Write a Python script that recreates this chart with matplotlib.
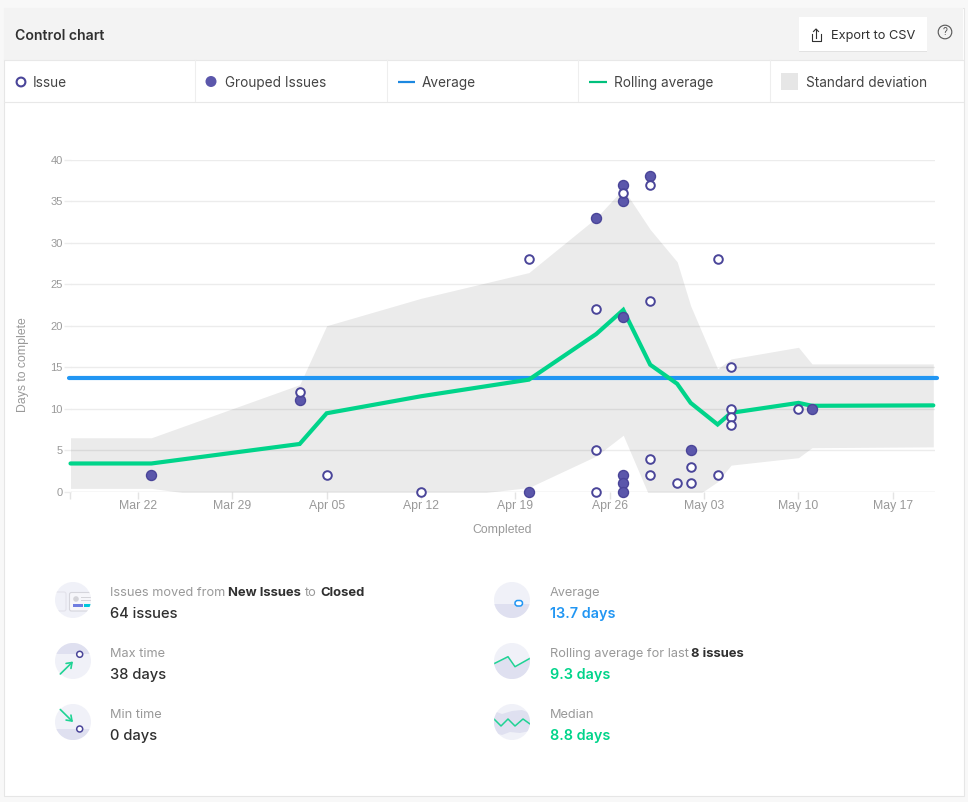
#!/usr/bin/env python3
import pandas as pd
import matplotlib
matplotlib.use("Agg")
import matplotlib.pyplot as plt
from matplotlib.patches import Rectangle, Circle, FancyBboxPatch, Polygon

# chart data
issue_dates = ["04-03", "04-05", "04-12", "04-20", "04-25", "04-25", "04-25", "04-27", "04-29", "04-29",
               "04-29", "04-29", "05-01", "05-02", "05-02", "05-04", "05-04", "05-05", "05-05", "05-05",
               "05-05", "05-10"]
issue_days = [12, 2, 0, 28, 22, 5, 0, 36, 37, 23, 4, 2, 1, 3, 1, 28, 2, 15, 10, 9, 8, 10]

group_dates = ["03-23", "04-03", "04-20", "04-25", "04-27", "04-27", "04-27", "04-27", "04-27", "04-27",
               "04-29", "05-02", "05-11"]
group_days = [2, 11, 0, 33, 37, 35, 21, 2, 1, 0, 38, 5, 10]

roll_dates = ["03-17", "03-23", "04-03", "04-05", "04-12", "04-20", "04-25", "04-27", "04-29", "05-01",
              "05-02", "05-04", "05-05", "05-10", "05-11", "05-20"]
roll_avg = [3.4, 3.4, 5.75, 9.45, 11.5, 13.5, 19.0, 21.9, 15.3, 13.0, 10.7, 8.1, 9.5, 10.7, 10.35, 10.4]
std_upper = [6.5, 6.5, 12.9, 20.0, 23.3, 26.4, 33.0, 36.5, 31.6, 27.7, 22.4, 14.8, 16.0, 17.4, 15.4, 15.4]
std_lower = [0.4, 0.4, -2.0, -1.5, -1.0, 0.5, 4.3, 6.8, -0.8, -1.8, -1.0, 1.2, 3.2, 4.1, 5.3, 5.4]

average = 13.7

tick_dates = ["03-17", "03-22", "03-29", "04-05", "04-12", "04-19", "04-26", "05-03", "05-10", "05-17"]
tick_labels = ["", "Mar 22", "Mar 29", "Apr 05", "Apr 12", "Apr 19", "Apr 26", "May 03", "May 10", "May 17"]
y_ticks = [0, 5, 10, 15, 20, 25, 30, 35, 40]

legend_names = ["Issue", "Grouped Issues", "Average", "Rolling average", "Standard deviation"]


def to_dates(md):
    return pd.to_datetime(["2020-" + d for d in md])


W, H = 968, 802
PURPLE = "#4a4599"
PURPLE_FILL = "#5b57ab"
BLUE = "#2196f3"
GREEN = "#00d48a"
GREY = "#999999"
DARK = "#303030"
ICON_BG = "#f0f1f8"
ICON_BAND = "#dfe0f0"

plt.rcParams["font.family"] = ["Inter", "DejaVu Sans"]
fig = plt.figure(figsize=(W / 100, H / 100), dpi=100, facecolor="#f8f8f8")

# page layer works in pixels
bg = fig.add_axes([0, 0, 1, 1], zorder=0)
bg.set_xlim(0, W)
bg.set_ylim(H, 0)
bg.axis("off")

bg.add_patch(Rectangle((3.5, 7.5), 960, 788, fc="white", ec="#e6e6e6", lw=0.8))
bg.add_patch(Rectangle((4, 8), 959, 51.5, fc="#f3f3f3", ec="none"))
bg.plot([4, 963], [59.5, 59.5], color="#e8e8e8", lw=0.8)
bg.plot([4, 963], [101.5, 101.5], color="#e8e8e8", lw=0.8)
for x in [194.5, 386.5, 577.5, 769.5]:
    bg.plot([x, x], [60, 101], color="#eeeeee", lw=0.8)

bg.text(15, 36, "Control chart", fontsize=10.1, color=DARK, fontweight="semibold", va="center")

# export button
bg.add_patch(Rectangle((799, 18), 128, 34, fc="#e2e2e2", ec="none"))
bg.add_patch(Rectangle((799, 17), 128, 34, fc="white", ec="none"))
bg.text(831, 36, "Export to CSV", fontsize=9.2, color=DARK, va="center")
bg.plot([811.5, 811.5, 820.5, 820.5], [34, 40.5, 40.5, 34], color=DARK, lw=0.8)
bg.plot([816, 816], [38, 29], color=DARK, lw=0.8)
bg.plot([813.5, 816, 818.5], [31.5, 29, 31.5], color=DARK, lw=0.8)
bg.add_patch(Circle((945, 32), 6.8, fc="none", ec="#555555", lw=0.8))
bg.text(945, 32.2, "?", fontsize=7, color="#555555", ha="center", va="center")

# legend row
bg.add_patch(Circle((21, 82), 4.4, fc="white", ec=PURPLE, lw=1.5))
bg.text(33, 83, legend_names[0], fontsize=9.8, color="#444444", va="center")
bg.add_patch(Circle((211, 81.5), 5.5, fc=PURPLE_FILL, ec="none"))
bg.text(225, 83, legend_names[1], fontsize=9.8, color="#444444", va="center")
bg.plot([398, 415], [82, 82], color="#1c88e0", lw=1.6, solid_capstyle="butt")
bg.text(422, 83, legend_names[2], fontsize=9.8, color="#444444", va="center")
bg.plot([589, 607], [82, 82], color="#00c07c", lw=1.6, solid_capstyle="butt")
bg.text(614, 83, legend_names[3], fontsize=9.8, color="#444444", va="center")
bg.add_patch(Rectangle((781, 73), 17, 17, fc="#e6e6e6", ec="none"))
bg.text(806, 83, legend_names[4], fontsize=9.8, color="#444444", va="center")


def icon(cx, cy):
    c = Circle((cx, cy), 18, fc=ICON_BG, ec="none")
    bg.add_patch(c)
    return c


def clipped(artist, clip):
    artist.set_clip_path(clip)
    return artist


# stats, left column
c = icon(73, 600)
bg.add_patch(clipped(FancyBboxPatch((52, 592), 14, 19, boxstyle="round,pad=0,rounding_size=2", fc="none", ec="#e2e2ea", lw=0.8), c))
bg.add_patch(clipped(FancyBboxPatch((69.5, 592.5), 30, 18.5, boxstyle="round,pad=0,rounding_size=2", fc="#f6f6fa", ec="#d5d5dc", lw=0.8), c))
bg.add_patch(Circle((76, 599), 2.8, fc="#d3d3d8", ec="none"))
clipped(bg.plot([81, 92], [597, 597], color="#d3d3d8", lw=0.7)[0], c)
clipped(bg.plot([81, 92], [600, 600], color="#d3d3d8", lw=0.7)[0], c)
bg.add_patch(clipped(Rectangle((73, 604), 10, 3, fc="#6f7de0", ec="none"), c))
bg.add_patch(clipped(Rectangle((84, 604), 7, 3, fc="#00c8dc", ec="none"), c))

c = icon(73, 661)
bg.add_patch(clipped(Rectangle((50, 640), 46, 14, fc=ICON_BAND, ec="none"), c))
bg.add_patch(Circle((79.7, 654.3), 3, fc="white", ec=PURPLE, lw=1.1))
bg.annotate("", xy=(73, 661.5), xytext=(60.3, 674),
            arrowprops=dict(arrowstyle="->,head_length=0.35,head_width=0.25", color="#1fd394", lw=1.2, shrinkA=0, shrinkB=0))

c = icon(73, 722)
bg.add_patch(clipped(Rectangle((50, 729), 46, 14, fc=ICON_BAND, ec="none"), c))
bg.add_patch(Circle((79.7, 729), 3, fc="white", ec=PURPLE, lw=1.1))
bg.annotate("", xy=(73, 722), xytext=(60.3, 709.5),
            arrowprops=dict(arrowstyle="->,head_length=0.35,head_width=0.25", color="#1fd394", lw=1.2, shrinkA=0, shrinkB=0))

# stats, right column
c = icon(512, 600)
bg.add_patch(clipped(Rectangle((490, 603.5), 46, 18, fc=ICON_BAND, ec="none"), c))
bg.add_patch(FancyBboxPatch((515, 600.5), 7.5, 5.5, boxstyle="round,pad=0,rounding_size=2.7", fc="white", ec=BLUE, lw=1.1))

c = icon(512, 661)
bg.add_patch(clipped(Polygon([(494, 663.7), (508, 656.7), (515, 666.7), (530, 658.3), (530, 680), (494, 680)],
                             fc=ICON_BAND, ec="none"), c))
clipped(bg.plot([494, 508, 515, 530], [663.7, 656.7, 666.7, 658.3], color="#1fd394", lw=1.1)[0], c)

c = icon(512, 722)
bg.add_patch(clipped(Polygon([(494, 711), (502, 714), (512, 711), (522, 710), (530, 713), (530, 731), (520, 733),
                              (510, 732), (502, 735), (494, 733)], fc=ICON_BAND, ec="none"), c))
clipped(bg.plot([494, 501, 508, 515, 523, 530], [719, 726, 719, 726, 719, 724], color="#1fd394", lw=1.1)[0], c)

LABEL = 9.2
VALUE = 10.6
bg.text(110.5, 592.8, "Issues moved from", fontsize=LABEL, color=GREY, va="center")
bg.text(228.5, 592.8, "New Issues", fontsize=9.35, color=DARK, fontweight="bold", va="center")
bg.text(305, 592.8, "to", fontsize=LABEL, color=GREY, va="center")
bg.text(320, 592.8, "Closed", fontsize=9.35, color=DARK, fontweight="bold", va="center")
bg.text(110.5, 614, "64 issues", fontsize=VALUE, color=DARK, fontweight="medium", va="center")
bg.text(110.5, 653.8, "Max time", fontsize=LABEL, color=GREY, va="center")
bg.text(110.5, 675, "38 days", fontsize=VALUE, color=DARK, fontweight="medium", va="center")
bg.text(110.5, 714.8, "Min time", fontsize=LABEL, color=GREY, va="center")
bg.text(110.5, 736, "0 days", fontsize=VALUE, color=DARK, fontweight="medium", va="center")

bg.text(549.5, 592.8, "Average", fontsize=LABEL, color=GREY, va="center")
bg.text(549.5, 614, "13.7 days", fontsize=10.4, color=BLUE, fontweight="semibold", va="center")
bg.text(549.5, 653.8, "Rolling average for last", fontsize=LABEL, color=GREY, va="center")
bg.text(691, 653.8, "8 issues", fontsize=9.35, color=DARK, fontweight="bold", va="center")
bg.text(549.5, 675, "9.3 days", fontsize=10.4, color=GREEN, fontweight="semibold", va="center")
bg.text(549.5, 714.8, "Median", fontsize=LABEL, color=GREY, va="center")
bg.text(549.5, 736, "8.8 days", fontsize=10.4, color=GREEN, fontweight="semibold", va="center")

# chart
left, right, top, bottom = 70.5, 935, 159.7, 491.7
ax = fig.add_axes([left / W, 1 - bottom / H, (right - left) / W, (bottom - top) / H], zorder=1)
ax.patch.set_alpha(0)
ax.set_xlim(pd.Timestamp("2020-03-17"), pd.Timestamp("2020-05-20 03:00"))
ax.set_ylim(0, 40)

for s in ax.spines.values():
    s.set_visible(False)
ax.set_axisbelow(True)
ax.grid(axis="y", color="#ececec", lw=1)
ax.set_yticks(y_ticks)
ax.set_xticks(to_dates(tick_dates))
ax.set_xticklabels(tick_labels)
ax.tick_params(axis="y", length=5, width=1, color="#ececec", labelcolor=GREY, pad=0.5)
ax.tick_params(axis="x", length=5, width=1, color="#e4e4e4", labelcolor=GREY, pad=1)
for t in ax.get_xticklabels():
    t.set_fontfamily("Liberation Sans")
    t.set_fontsize(8.8)
for t in ax.get_yticklabels():
    t.set_fontfamily("Liberation Sans")
    t.set_fontsize(8)

ax.axhline(0, color="#e8e8e8", lw=1, zorder=1)
ax.fill_between(to_dates(roll_dates), std_lower, std_upper, color="black", alpha=0.08, lw=0, zorder=2)
ax.axhline(average, color=BLUE, lw=3, solid_capstyle="round", clip_on=False, xmin=-0.002, xmax=1.002, zorder=3)
ax.plot(to_dates(roll_dates), roll_avg, color=GREEN, lw=3, solid_capstyle="round", solid_joinstyle="miter",
        clip_on=False, zorder=4)
ax.plot(to_dates(group_dates), group_days, "o", ms=7.2, mfc=PURPLE_FILL, mec=PURPLE, mew=1, clip_on=False, zorder=5)
ax.plot(to_dates(issue_dates), issue_days, "o", ms=6.2, mfc="white", mec=PURPLE, mew=1.4, clip_on=False, zorder=6)

bg.text(23.5, 365, "Days to complete", rotation=90, fontsize=8.8, color=GREY, family="Liberation Sans",
        ha="center", va="center")
bg.text(502.5, 529.5, "Completed", fontsize=8.8, color=GREY, family="Liberation Sans", ha="center", va="center")

fig.savefig("out.png", dpi=100, facecolor=fig.get_facecolor())
